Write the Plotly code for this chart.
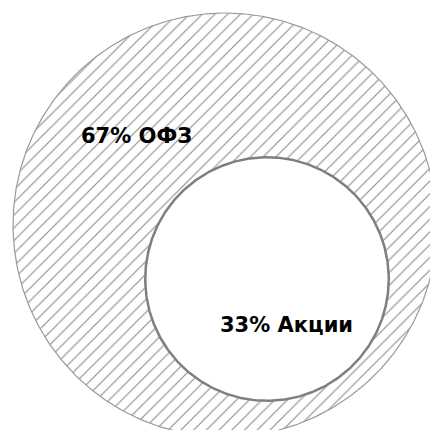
import numpy as np
import plotly.graph_objects as go

# Data
labels = ["ОФЗ", "Акции"]
shares = [67, 33]

# Layout constants (pixels in a 430x430 canvas)
W = H = 430
R_TOTAL = 212
big_center = (225, 225)
small_center = (267, 279)
label_pos = {"ОФЗ": (136, 136), "Акции": (286, 325)}

theta = np.linspace(0, 2 * np.pi, 721)

def circle(c, r):
    return c[0] + r * np.cos(theta), c[1] + r * np.sin(theta)

total = sum(shares)
r_big = R_TOTAL * np.sqrt(total / total)
r_small = R_TOTAL * np.sqrt(shares[1] / total)

fig = go.Figure()

bx, by = circle(big_center, r_big)
fig.add_trace(go.Scatter(
    x=bx, y=by, mode="lines", fill="toself",
    fillcolor="white",
    fillpattern=dict(shape="/", size=9, solidity=0.12, fgcolor="#111111", bgcolor="white"),
    line=dict(color="#9a9a9a", width=1.2),
    hoverinfo="skip", showlegend=False,
))

sx, sy = circle(small_center, r_small)
fig.add_trace(go.Scatter(
    x=sx, y=sy, mode="lines", fill="toself",
    fillcolor="white",
    line=dict(color="#7f7f7f", width=2.5),
    hoverinfo="skip", showlegend=False,
))

for lab, val in zip(labels, shares):
    px, py = label_pos[lab]
    fig.add_annotation(
        x=px, y=py, xref="x", yref="y", showarrow=False,
        text=f"<b>{val}% {lab}</b>",
        font=dict(family="DejaVu Sans, sans-serif", size=21, color="#000000"),
    )

fig.update_layout(
    width=W, height=H,
    margin=dict(l=0, r=0, t=0, b=0),
    paper_bgcolor="white", plot_bgcolor="white",
    xaxis=dict(range=[0, W], visible=False, fixedrange=True),
    yaxis=dict(range=[H, 0], visible=False, fixedrange=True),
)

fig.write_html("out.html", config={"displayModeBar": False},
               post_script="document.body.style.margin='0';")
